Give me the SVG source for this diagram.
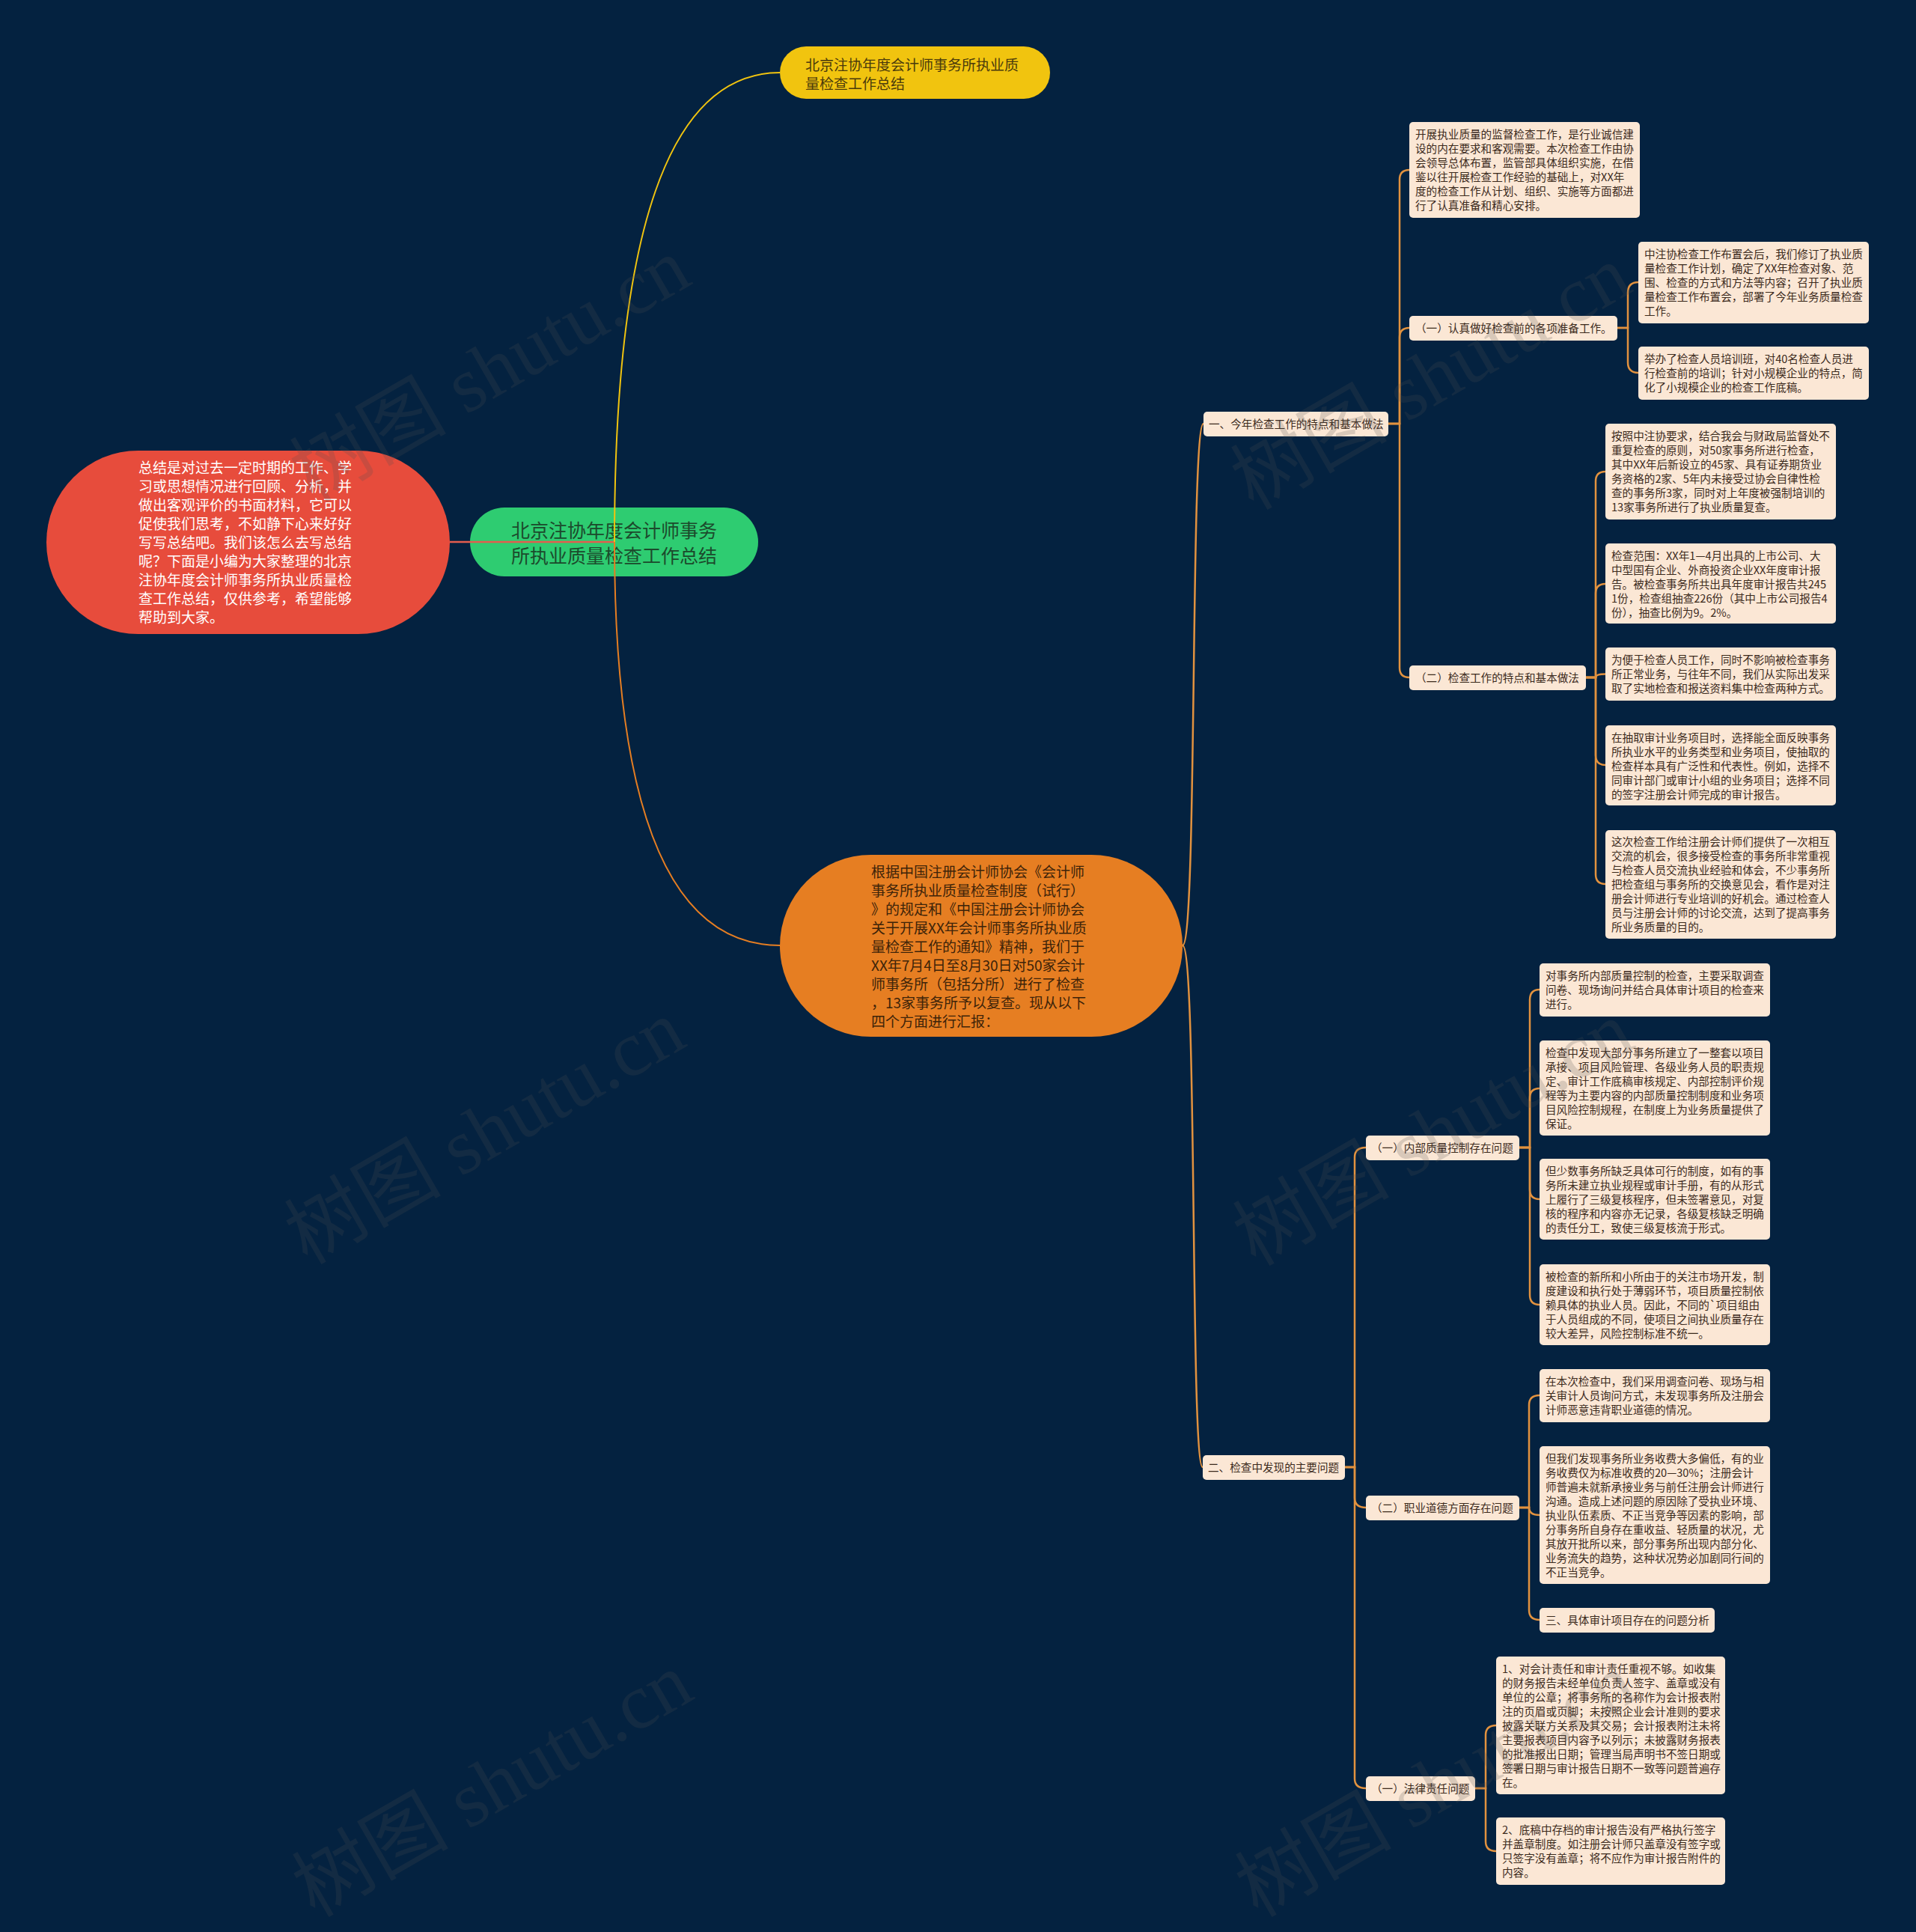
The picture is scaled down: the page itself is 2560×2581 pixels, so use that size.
<svg xmlns="http://www.w3.org/2000/svg" width="2560" height="2581" viewBox="0 0 2560 2581">
<style>
text{font-family:"Noto Sans CJK SC","Noto Sans",sans-serif}
.nb rect{fill:#fbe7d5}
.nb text{font-size:14.6px;fill:#3b2a1c}
.c{fill:none;stroke:#e2923f;stroke-width:2.5}
.wm{font-family:"Liberation Serif","Noto Sans CJK SC",serif;font-size:105px;fill:#505050;opacity:0.2}
</style>
<rect x="0" y="0" width="2560" height="2581" fill="#042240"/>

<g id="node-intro">
<rect x="62" y="602" width="539" height="245" rx="122.5" fill="#e74c3c"/>
<text x="185" y="632" font-size="19" fill="#ffffff"><tspan x="185" dy="0">总结是对过去一定时期的工作、学</tspan><tspan x="185" dy="25">习或思想情况进行回顾、分析，并</tspan><tspan x="185" dy="25">做出客观评价的书面材料，它可以</tspan><tspan x="185" dy="25">促使我们思考，不如静下心来好好</tspan><tspan x="185" dy="25">写写总结吧。我们该怎么去写总结</tspan><tspan x="185" dy="25">呢？下面是小编为大家整理的北京</tspan><tspan x="185" dy="25">注协年度会计师事务所执业质量检</tspan><tspan x="185" dy="25">查工作总结，仅供参考，希望能够</tspan><tspan x="185" dy="25">帮助到大家。</tspan></text>
</g>

<g id="node-root">
<rect x="628" y="678" width="385" height="92" rx="46" fill="#2ecc71"/>
<text x="683" y="718" font-size="25" fill="#1c4a2c"><tspan x="683" dy="0">北京注协年度会计师事务</tspan><tspan x="683" dy="34">所执业质量检查工作总结</tspan></text>
</g>

<g id="node-title">
<rect x="1042" y="62" width="361" height="70" rx="35" fill="#f1c40f"/>
<text x="1076" y="94" font-size="19" fill="#4a3a0c"><tspan x="1076" dy="0">北京注协年度会计师事务所执业质</tspan><tspan x="1076" dy="25">量检查工作总结</tspan></text>
</g>

<g id="node-basis">
<rect x="1042" y="1142" width="538" height="243" rx="121.5" fill="#e67e22"/>
<text x="1164" y="1172" font-size="19" fill="#3d2309"><tspan x="1164" dy="0">根据中国注册会计师协会《会计师</tspan><tspan x="1164" dy="25">事务所执业质量检查制度（试行）</tspan><tspan x="1164" dy="25">》的规定和《中国注册会计师协会</tspan><tspan x="1164" dy="25">关于开展XX年会计师事务所执业质</tspan><tspan x="1164" dy="25">量检查工作的通知》精神，我们于</tspan><tspan x="1164" dy="25">XX年7月4日至8月30日对50家会计</tspan><tspan x="1164" dy="25">师事务所（包括分所）进行了检查</tspan><tspan x="1164" dy="25">，13家事务所予以复查。现从以下</tspan><tspan x="1164" dy="25">四个方面进行汇报：</tspan></text>
</g>

<g id="node-s1" class="nb"><rect x="1608" y="550" width="247" height="33" rx="5"/><text x="1615" y="572">一、今年检查工作的特点和基本做法</text></g>

<g id="node-s1-a" class="nb"><rect x="1883" y="163" width="308" height="128" rx="5"/><text x="1891" y="185"><tspan x="1891" dy="0">开展执业质量的监督检查工作，是行业诚信建</tspan><tspan x="1891" dy="19">设的内在要求和客观需要。本次检查工作由协</tspan><tspan x="1891" dy="19">会领导总体布置，监管部具体组织实施，在借</tspan><tspan x="1891" dy="19">鉴以往开展检查工作经验的基础上，对XX年</tspan><tspan x="1891" dy="19">度的检查工作从计划、组织、实施等方面都进</tspan><tspan x="1891" dy="19">行了认真准备和精心安排。</tspan></text></g>

<g id="node-s1-b" class="nb"><rect x="1883" y="422" width="278" height="33" rx="5"/><text x="1891" y="444">（一）认真做好检查前的各项准备工作。</text></g>

<g id="node-s1-b1" class="nb"><rect x="2189" y="323" width="308" height="109" rx="5"/><text x="2197" y="345"><tspan x="2197" dy="0">中注协检查工作布置会后，我们修订了执业质</tspan><tspan x="2197" dy="19">量检查工作计划，确定了XX年检查对象、范</tspan><tspan x="2197" dy="19">围、检查的方式和方法等内容；召开了执业质</tspan><tspan x="2197" dy="19">量检查工作布置会，部署了今年业务质量检查</tspan><tspan x="2197" dy="19">工作。</tspan></text></g>

<g id="node-s1-b2" class="nb"><rect x="2189" y="463" width="308" height="71" rx="5"/><text x="2197" y="485"><tspan x="2197" dy="0">举办了检查人员培训班，对40名检查人员进</tspan><tspan x="2197" dy="19">行检查前的培训；针对小规模企业的特点，简</tspan><tspan x="2197" dy="19">化了小规模企业的检查工作底稿。</tspan></text></g>

<g id="node-s1-c" class="nb"><rect x="1883" y="889" width="236" height="33" rx="5"/><text x="1891" y="911">（二）检查工作的特点和基本做法</text></g>

<g id="node-s1-c1" class="nb"><rect x="2145" y="566" width="308" height="128" rx="5"/><text x="2153" y="588"><tspan x="2153" dy="0">按照中注协要求，结合我会与财政局监督处不</tspan><tspan x="2153" dy="19">重复检查的原则，对50家事务所进行检查，</tspan><tspan x="2153" dy="19">其中XX年后新设立的45家、具有证券期货业</tspan><tspan x="2153" dy="19">务资格的2家、5年内未接受过协会自律性检</tspan><tspan x="2153" dy="19">查的事务所3家，同时对上年度被强制培训的</tspan><tspan x="2153" dy="19">13家事务所进行了执业质量复查。</tspan></text></g>

<g id="node-s1-c2" class="nb"><rect x="2145" y="726" width="308" height="107" rx="5"/><text x="2153" y="748"><tspan x="2153" dy="0">检查范围：XX年1—4月出具的上市公司、大</tspan><tspan x="2153" dy="19">中型国有企业、外商投资企业XX年度审计报</tspan><tspan x="2153" dy="19">告。被检查事务所共出具年度审计报告共245</tspan><tspan x="2153" dy="19">1份，检查组抽查226份（其中上市公司报告4</tspan><tspan x="2153" dy="19">份），抽查比例为9。2%。</tspan></text></g>

<g id="node-s1-c3" class="nb"><rect x="2145" y="865" width="308" height="71" rx="5"/><text x="2153" y="887"><tspan x="2153" dy="0">为便于检查人员工作，同时不影响被检查事务</tspan><tspan x="2153" dy="19">所正常业务，与往年不同，我们从实际出发采</tspan><tspan x="2153" dy="19">取了实地检查和报送资料集中检查两种方式。</tspan></text></g>

<g id="node-s1-c4" class="nb"><rect x="2145" y="969" width="308" height="107" rx="5"/><text x="2153" y="991"><tspan x="2153" dy="0">在抽取审计业务项目时，选择能全面反映事务</tspan><tspan x="2153" dy="19">所执业水平的业务类型和业务项目，使抽取的</tspan><tspan x="2153" dy="19">检查样本具有广泛性和代表性。例如，选择不</tspan><tspan x="2153" dy="19">同审计部门或审计小组的业务项目；选择不同</tspan><tspan x="2153" dy="19">的签字注册会计师完成的审计报告。</tspan></text></g>

<g id="node-s1-c5" class="nb"><rect x="2145" y="1109" width="308" height="145" rx="5"/><text x="2153" y="1130"><tspan x="2153" dy="0">这次检查工作给注册会计师们提供了一次相互</tspan><tspan x="2153" dy="19">交流的机会，很多接受检查的事务所非常重视</tspan><tspan x="2153" dy="19">与检查人员交流执业经验和体会，不少事务所</tspan><tspan x="2153" dy="19">把检查组与事务所的交换意见会，看作是对注</tspan><tspan x="2153" dy="19">册会计师进行专业培训的好机会。通过检查人</tspan><tspan x="2153" dy="19">员与注册会计师的讨论交流，达到了提高事务</tspan><tspan x="2153" dy="19">所业务质量的目的。</tspan></text></g>

<g id="node-s2" class="nb"><rect x="1607" y="1944" width="190" height="33" rx="5"/><text x="1614" y="1966">二、检查中发现的主要问题</text></g>

<g id="node-s2-a" class="nb"><rect x="1825" y="1517" width="205" height="33" rx="5"/><text x="1832" y="1539">（一）内部质量控制存在问题</text></g>

<g id="node-s2-a1" class="nb"><rect x="2057" y="1287" width="308" height="71" rx="5"/><text x="2065" y="1309"><tspan x="2065" dy="0">对事务所内部质量控制的检查，主要采取调查</tspan><tspan x="2065" dy="19">问卷、现场询问并结合具体审计项目的检查来</tspan><tspan x="2065" dy="19">进行。</tspan></text></g>

<g id="node-s2-a2" class="nb"><rect x="2057" y="1390" width="308" height="127" rx="5"/><text x="2065" y="1412"><tspan x="2065" dy="0">检查中发现大部分事务所建立了一整套以项目</tspan><tspan x="2065" dy="19">承接、项目风险管理、各级业务人员的职责规</tspan><tspan x="2065" dy="19">定、审计工作底稿审核规定、内部控制评价规</tspan><tspan x="2065" dy="19">程等为主要内容的内部质量控制制度和业务项</tspan><tspan x="2065" dy="19">目风险控制规程，在制度上为业务质量提供了</tspan><tspan x="2065" dy="19">保证。</tspan></text></g>

<g id="node-s2-a3" class="nb"><rect x="2057" y="1548" width="308" height="108" rx="5"/><text x="2065" y="1570"><tspan x="2065" dy="0">但少数事务所缺乏具体可行的制度，如有的事</tspan><tspan x="2065" dy="19">务所未建立执业规程或审计手册，有的从形式</tspan><tspan x="2065" dy="19">上履行了三级复核程序，但未签署意见，对复</tspan><tspan x="2065" dy="19">核的程序和内容亦无记录，各级复核缺乏明确</tspan><tspan x="2065" dy="19">的责任分工，致使三级复核流于形式。</tspan></text></g>

<g id="node-s2-a4" class="nb"><rect x="2057" y="1689" width="308" height="108" rx="5"/><text x="2065" y="1711"><tspan x="2065" dy="0">被检查的新所和小所由于的关注市场开发，制</tspan><tspan x="2065" dy="19">度建设和执行处于薄弱环节，项目质量控制依</tspan><tspan x="2065" dy="19">赖具体的执业人员。因此，不同的`项目组由</tspan><tspan x="2065" dy="19">于人员组成的不同，使项目之间执业质量存在</tspan><tspan x="2065" dy="19">较大差异，风险控制标准不统一。</tspan></text></g>

<g id="node-s2-b" class="nb"><rect x="1825" y="1998" width="205" height="33" rx="5"/><text x="1832" y="2020">（二）职业道德方面存在问题</text></g>

<g id="node-s2-b1" class="nb"><rect x="2057" y="1829" width="308" height="71" rx="5"/><text x="2065" y="1851"><tspan x="2065" dy="0">在本次检查中，我们采用调查问卷、现场与相</tspan><tspan x="2065" dy="19">关审计人员询问方式，未发现事务所及注册会</tspan><tspan x="2065" dy="19">计师恶意违背职业道德的情况。</tspan></text></g>

<g id="node-s2-b2" class="nb"><rect x="2057" y="1932" width="308" height="184" rx="5"/><text x="2065" y="1954"><tspan x="2065" dy="0">但我们发现事务所业务收费大多偏低，有的业</tspan><tspan x="2065" dy="19">务收费仅为标准收费的20—30%；注册会计</tspan><tspan x="2065" dy="19">师普遍未就新承接业务与前任注册会计师进行</tspan><tspan x="2065" dy="19">沟通。造成上述问题的原因除了受执业环境、</tspan><tspan x="2065" dy="19">执业队伍素质、不正当竞争等因素的影响，部</tspan><tspan x="2065" dy="19">分事务所自身存在重收益、轻质量的状况，尤</tspan><tspan x="2065" dy="19">其放开批所以来，部分事务所出现内部分化、</tspan><tspan x="2065" dy="19">业务流失的趋势，这种状况势必加剧同行间的</tspan><tspan x="2065" dy="19">不正当竞争。</tspan></text></g>

<g id="node-s2-b3" class="nb"><rect x="2057" y="2148" width="234" height="33" rx="5"/><text x="2065" y="2170">三、具体审计项目存在的问题分析</text></g>

<g id="node-s2-c" class="nb"><rect x="1825" y="2373" width="146" height="33" rx="5"/><text x="1832" y="2395">（一）法律责任问题</text></g>

<g id="node-s2-c1" class="nb"><rect x="1999" y="2213" width="306" height="184" rx="5"/><text x="2007" y="2235"><tspan x="2007" dy="0">1、对会计责任和审计责任重视不够。如收集</tspan><tspan x="2007" dy="19">的财务报告未经单位负责人签字、盖章或没有</tspan><tspan x="2007" dy="19">单位的公章；将事务所的名称作为会计报表附</tspan><tspan x="2007" dy="19">注的页眉或页脚；未按照企业会计准则的要求</tspan><tspan x="2007" dy="19">披露关联方关系及其交易；会计报表附注未将</tspan><tspan x="2007" dy="19">主要报表项目内容予以列示；未披露财务报表</tspan><tspan x="2007" dy="19">的批准报出日期；管理当局声明书不签日期或</tspan><tspan x="2007" dy="19">签署日期与审计报告日期不一致等问题普遍存</tspan><tspan x="2007" dy="19">在。</tspan></text></g>

<g id="node-s2-c2" class="nb"><rect x="1999" y="2428" width="306" height="90" rx="5"/><text x="2007" y="2450"><tspan x="2007" dy="0">2、底稿中存档的审计报告没有严格执行签字</tspan><tspan x="2007" dy="19">并盖章制度。如注册会计师只盖章没有签字或</tspan><tspan x="2007" dy="19">只签字没有盖章；将不应作为审计报告附件的</tspan><tspan x="2007" dy="19">内容。</tspan></text></g>

<g id="connectors">
<path d="M601,724 H821" fill="none" stroke="#e35d4e" stroke-width="2.5"/>
<path d="M821,724 Q821,97 1042,97" fill="none" stroke="#f1c40f" stroke-width="2"/>
<path d="M821,724 Q821,1263 1042,1263" fill="none" stroke="#e67e22" stroke-width="2"/>
<path class="c" d="M1580,1263 C1600,1263 1590,566 1608,566"/>
<path class="c" d="M1580,1263 C1600,1263 1590,1960 1607,1960"/>
<path class="c" d="M1855,566 H1870 V240 Q1870,227 1883,227"/>
<path class="c" d="M1855,566 H1870 V451 Q1870,438 1883,438"/>
<path class="c" d="M1855,566 H1870 V892 Q1870,905 1883,905"/>
<path class="c" d="M2161,438 H2175 V391 Q2175,377 2189,377"/>
<path class="c" d="M2161,438 H2175 V484 Q2175,498 2189,498"/>
<path class="c" d="M2119,905 H2132 V643 Q2132,630 2145,630"/>
<path class="c" d="M2119,905 H2132 V793 Q2132,780 2145,780"/>
<path class="c" d="M2119,905 H2132 Q2132,900.5 2145,900.5"/>
<path class="c" d="M2119,905 H2132 V1009 Q2132,1022 2145,1022"/>
<path class="c" d="M2119,905 H2132 V1168 Q2132,1181 2145,1181"/>
<path class="c" d="M1797,1960 H1810 V1546 Q1810,1533 1825,1533"/>
<path class="c" d="M1797,1960 H1810 V2001 Q1810,2014 1825,2014"/>
<path class="c" d="M1797,1960 H1810 V2376 Q1810,2389 1825,2389"/>
<path class="c" d="M2030,1533 H2044 V1336 Q2044,1322 2057,1322"/>
<path class="c" d="M2030,1533 H2044 V1467 Q2044,1454 2057,1454"/>
<path class="c" d="M2030,1533 H2044 V1589 Q2044,1602 2057,1602"/>
<path class="c" d="M2030,1533 H2044 V1730 Q2044,1743 2057,1743"/>
<path class="c" d="M2030,2014 H2043 V1877 Q2043,1864 2057,1864"/>
<path class="c" d="M2030,2014 H2043 Q2043,2024 2057,2024"/>
<path class="c" d="M2030,2014 H2043 V2151 Q2043,2164 2057,2164"/>
<path class="c" d="M1971,2389 H1985 V2318 Q1985,2305 1999,2305"/>
<path class="c" d="M1971,2389 H1985 V2460 Q1985,2473 1999,2473"/>
</g>

<g id="watermarks">
<text class="wm" x="655" y="530" text-anchor="middle" transform="rotate(-30 655 495)">树图 shutu.cn</text>
<text class="wm" x="648" y="1548" text-anchor="middle" transform="rotate(-30 648 1513)">树图 shutu.cn</text>
<text class="wm" x="658" y="2420" text-anchor="middle" transform="rotate(-30 658 2385)">树图 shutu.cn</text>
<text class="wm" x="1912" y="540" text-anchor="middle" transform="rotate(-30 1912 505)">树图 shutu.cn</text>
<text class="wm" x="1915" y="1550" text-anchor="middle" transform="rotate(-30 1915 1515)">树图 shutu.cn</text>
<text class="wm" x="1918" y="2420" text-anchor="middle" transform="rotate(-30 1918 2385)">树图 shutu.cn</text>
</g>
</svg>
